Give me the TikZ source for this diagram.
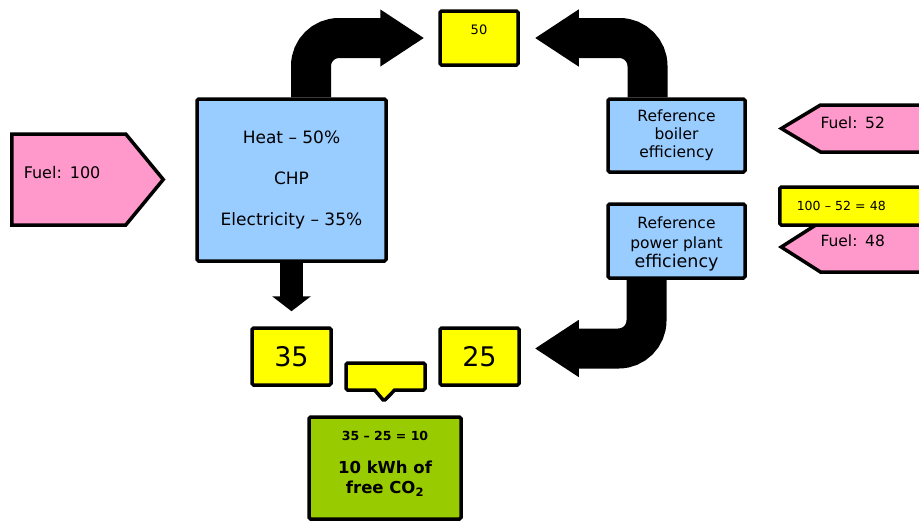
\documentclass[tikz,border=0pt]{standalone}
\usepackage{fontspec}
\setmainfont{DejaVu Sans}
\usetikzlibrary{
  arrows.meta,
  shapes.symbols,
  shapes.callouts
}
\definecolor{fpFuel}{HTML}{FF99CC}
\definecolor{fpUnit}{HTML}{99CCFF}
\definecolor{fpValue}{HTML}{FFFF00}
\definecolor{fpSaving}{HTML}{99CC00}
\tikzset{
  fpnode/.style={
    draw, line width=3.5pt, rounded corners=1.5pt, align=center, inner sep=0pt
  },
  unitbox/.style={fpnode, fill=fpUnit},
  valbox/.style={fpnode, fill=fpValue},
  savebox/.style={fpnode, fill=fpSaving, font=\fontsize{16.5}{20}\selectfont\bfseries},
  fuelsig/.style={
    draw, line width=3.5pt, fill=fpFuel, shape=signal, inner ysep=0pt, align=left
  },
  bigflow/.style={line width=40pt, -{Triangle[length=44pt, width=54pt]}, rounded corners=28pt},
  downflow/.style={line width=23pt, -{Triangle[length=15pt, width=38pt]}}
}

\begin{document}
\begin{tikzpicture}[x=1pt, y=-1pt]
  \useasboundingbox (0,0) rectangle (919,522);
  % fuel input and CHP unit
  \node[fuelsig, signal to=east, signal pointer angle=101, minimum height=91pt, text depth=14pt,
    text width=90pt, inner xsep=12pt, font=\fontsize{16}{18}\selectfont, anchor=west] (fuel) at (10,179.5) {Fuel: 100};
  \node[unitbox, minimum width=189pt, minimum height=162pt, font=\fontsize{17}{41}\selectfont] (chp) at (291.5,180)
    {Heat -- 50\%\\CHP\\Electricity -- 35\%};
  \node[valbox, minimum width=78pt, minimum height=54pt, text depth=16pt, font=\fontsize{13}{15}\selectfont] (fifty) at (479,38) {50};
  % reference plants
  \node[unitbox, minimum width=137pt, minimum height=73pt, font=\fontsize{15.5}{18}\selectfont] (boiler) at (676.5,135.5)
    {Reference\\boiler\\efficiency};
  \node[unitbox, minimum width=137pt, minimum height=74pt, text height=57pt, font=\fontsize{15.5}{19.5}\selectfont] (plant) at (676.5,241)
    {Reference\\power plant\\{\fontsize{17.5}{19.5}\selectfont efficiency}};
  \node[fuelsig, signal to=west, signal pointer angle=62, minimum height=47pt, text depth=12pt,
    text width=110pt, inner xsep=0pt, font=\fontsize{15.5}{17}\selectfont, anchor=west] (fuelheat) at (778,128.5) {Fuel: 52};
  \node[fuelsig, signal to=west, signal pointer angle=65, minimum height=50pt, text depth=13pt,
    text width=110pt, inner xsep=0pt, font=\fontsize{15.5}{17}\selectfont, anchor=west] (fuelpower) at (778,247) {Fuel: 48};
  \node[valbox, align=left, minimum height=38pt, text width=150pt, inner xsep=17pt,
    font=\fontsize{12.5}{14}\selectfont, anchor=west] (fuelcalc) at (778,206) {100 -- 52 = 48};
  % outputs and saving
  \node[valbox, minimum width=79pt, minimum height=57pt, font=\fontsize{27}{30}\selectfont] (thirtyfive) at (291.5,356.5) {35};
  \node[valbox, minimum width=79pt, minimum height=57pt, font=\fontsize{27}{30}\selectfont] (twentyfive) at (479.5,356.5) {25};
  \node[valbox, shape=rectangle callout, callout absolute pointer={(384,401)}, callout pointer width=20pt,
    minimum width=79pt, minimum height=27pt] (gap) at (385.5,376.5) {};
  \node[savebox, minimum width=152pt, minimum height=102pt, text depth=11pt] (saving) at (385,468)
    {{\fontsize{12.5}{14}\selectfont 35 -- 25 = 10}\\[13pt]10 kWh of\\free CO\textsubscript{2}};
  % flows
  \draw[bigflow, shorten >=14pt] ([xshift=19.5pt]chp.north) |- (fifty.west);
  \draw[bigflow, shorten >=15pt] ([xshift=-29pt]boiler.north) |- (fifty.east);
  \draw[bigflow, shorten >=14pt] ([xshift=-30pt]plant.south) |- ([yshift=8pt]twentyfive.east);
  \draw[downflow, shorten >=15pt] (chp.south) -- (thirtyfive.north);
\end{tikzpicture}
\end{document}
